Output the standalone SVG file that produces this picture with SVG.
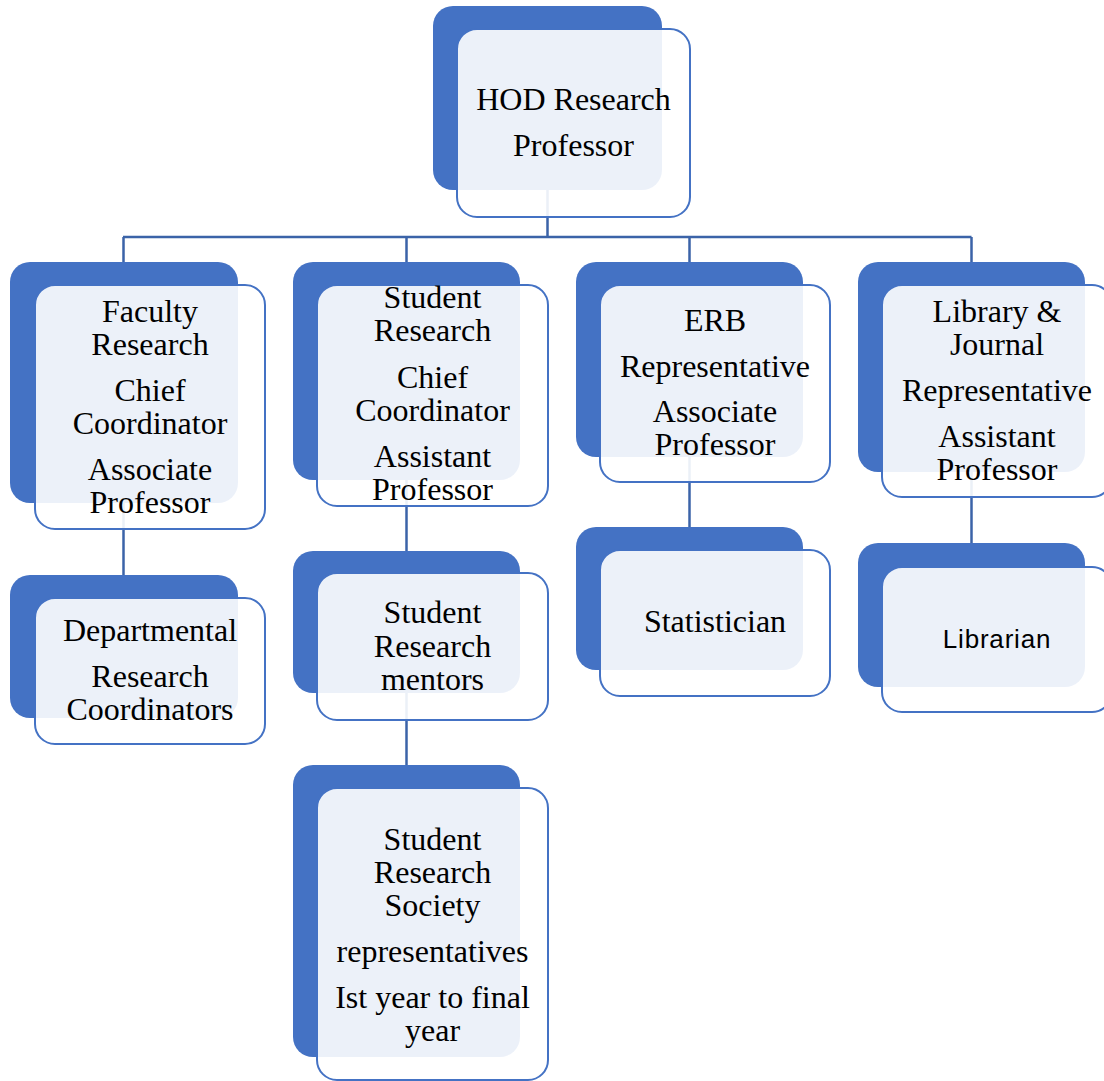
<svg xmlns="http://www.w3.org/2000/svg" width="1104" height="1081" viewBox="0 0 1104 1081">
<style>
.back{fill:#4472C4;}
.front{fill:#FFFFFF;fill-opacity:0.9;stroke:#4472C4;stroke-width:2;}
.t{font-family:"Liberation Serif","Times New Roman",serif;font-size:32px;fill:#000;text-anchor:middle;}
.s{font-family:"Liberation Sans",Arial,sans-serif;font-size:26px;letter-spacing:0.8px;fill:#000;text-anchor:middle;}
.c{stroke:#3B63A8;stroke-width:2.5;fill:none;}
</style>
<rect width="1104" height="1081" fill="#FFFFFF"/>
<g id="connectors">
<path class="c" d="M547.5 190 V237 M123 237 H971.5 M123.5 237 V262 M406.5 237 V262 M689.5 237 V262 M971.5 237 V262"/>
<path class="c" d="M123.5 503 V575"/>
<path class="c" d="M406.5 480 V551"/>
<path class="c" d="M406.5 693 V765"/>
<path class="c" d="M689.5 457 V527"/>
<path class="c" d="M971.5 472 V543"/>
</g>
<g id="hod">
<rect class="back" x="433" y="6" width="229" height="184" rx="20"/>
<rect class="front" x="457" y="29" width="233" height="188" rx="20"/>
<text class="t" x="573.5" y="110">HOD Research</text>
<text class="t" x="573.5" y="156">Professor</text>
</g>
<g id="faculty">
<rect class="back" x="10" y="262" width="228" height="241" rx="20"/>
<rect class="front" x="35" y="285" width="230" height="244" rx="20"/>
<text class="t" x="150" y="322">Faculty</text>
<text class="t" x="150" y="355">Research</text>
<text class="t" x="150" y="401">Chief</text>
<text class="t" x="150" y="434">Coordinator</text>
<text class="t" x="150" y="480">Associate</text>
<text class="t" x="150" y="513">Professor</text>
</g>
<g id="student">
<rect class="back" x="293" y="262" width="227" height="218" rx="20"/>
<rect class="front" x="317" y="285" width="231" height="221" rx="20"/>
<text class="t" x="432.5" y="308">Student</text>
<text class="t" x="432.5" y="341">Research</text>
<text class="t" x="432.5" y="388">Chief</text>
<text class="t" x="432.5" y="421">Coordinator</text>
<text class="t" x="432.5" y="467">Assistant</text>
<text class="t" x="432.5" y="500">Professor</text>
</g>
<g id="erb">
<rect class="back" x="576" y="262" width="227" height="195" rx="20"/>
<rect class="front" x="600" y="285" width="230" height="197" rx="20"/>
<text class="t" x="715" y="331">ERB</text>
<text class="t" x="715" y="377">Representative</text>
<text class="t" x="715" y="422">Associate</text>
<text class="t" x="715" y="455">Professor</text>
</g>
<g id="library">
<rect class="back" x="858" y="262" width="227" height="210" rx="20"/>
<rect class="front" x="882" y="285" width="230" height="212" rx="20"/>
<text class="t" x="997" y="322">Library &amp;</text>
<text class="t" x="997" y="355">Journal</text>
<text class="t" x="997" y="401">Representative</text>
<text class="t" x="997" y="447">Assistant</text>
<text class="t" x="997" y="480">Professor</text>
</g>
<g id="departmental">
<rect class="back" x="10" y="575" width="228" height="143" rx="20"/>
<rect class="front" x="35" y="598" width="230" height="146" rx="20"/>
<text class="t" x="150" y="641">Departmental</text>
<text class="t" x="150" y="687">Research</text>
<text class="t" x="150" y="720">Coordinators</text>
</g>
<g id="mentors">
<rect class="back" x="293" y="551" width="227" height="142" rx="20"/>
<rect class="front" x="317" y="573" width="231" height="147" rx="20"/>
<text class="t" x="432.5" y="623">Student</text>
<text class="t" x="432.5" y="657">Research</text>
<text class="t" x="432.5" y="690">mentors</text>
</g>
<g id="statistician">
<rect class="back" x="576" y="527" width="227" height="143" rx="20"/>
<rect class="front" x="600" y="550" width="230" height="146" rx="20"/>
<text class="t" x="715" y="632">Statistician</text>
</g>
<g id="librarian">
<rect class="back" x="858" y="543" width="227" height="144" rx="20"/>
<rect class="front" x="882" y="567" width="230" height="145" rx="20"/>
<text class="s" x="997" y="648">Librarian</text>
</g>
<g id="society">
<rect class="back" x="293" y="765" width="227" height="292" rx="20"/>
<rect class="front" x="317" y="788" width="231" height="292" rx="20"/>
<text class="t" x="432.5" y="850">Student</text>
<text class="t" x="432.5" y="883">Research</text>
<text class="t" x="432.5" y="916">Society</text>
<text class="t" x="432.5" y="962">representatives</text>
<text class="t" x="432.5" y="1008">Ist year to final</text>
<text class="t" x="432.5" y="1041">year</text>
</g>
</svg>
